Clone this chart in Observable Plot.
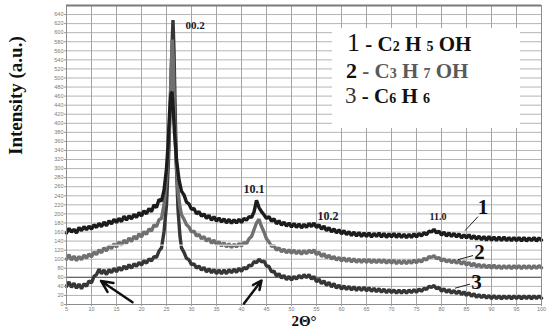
<!DOCTYPE html>
<html><head><meta charset="utf-8">
<script src="https://cdn.jsdelivr.net/npm/d3@7"></script>
<script src="https://cdn.jsdelivr.net/npm/@observablehq/plot@0.6"></script>
<style>
body{margin:0;background:#fff;}
#wrap{position:relative;width:550px;height:334px;overflow:hidden;}
#legend{position:absolute;left:332px;top:28px;overflow:visible;font-family:'Liberation Serif','Times New Roman','DejaVu Serif',serif;}
</style></head>
<body>
<div id="wrap"><div id="chart"></div>
<svg id="legend" width="188" height="100">
  <rect x="0" y="0" width="188" height="100" fill="#fff"/>
  <text x="15" y="23" fill="#111"><tspan font-size="26">1</tspan><tspan font-size="21" font-weight="bold"> - C</tspan><tspan font-size="14" font-weight="bold">2</tspan><tspan font-size="21" font-weight="bold"> H </tspan><tspan font-size="14" font-weight="bold">5</tspan><tspan font-size="21" font-weight="bold"> OH</tspan></text>
  <text x="14" y="50"><tspan font-size="22" font-weight="bold" fill="#111">2</tspan><tspan font-size="21" font-weight="bold" fill="#5a5a5a"> - C</tspan><tspan font-size="14" font-weight="bold" fill="#5a5a5a">3</tspan><tspan font-size="21" font-weight="bold" fill="#5a5a5a"> H </tspan><tspan font-size="14" font-weight="bold" fill="#5a5a5a">7</tspan><tspan font-size="21" font-weight="bold" fill="#5a5a5a"> OH</tspan></text>
  <text x="13" y="75"><tspan font-size="23" fill="#333">3</tspan><tspan font-size="21" font-weight="bold" fill="#111"> - C</tspan><tspan font-size="14" font-weight="bold" fill="#111">6</tspan><tspan font-size="21" font-weight="bold" fill="#111"> H </tspan><tspan font-size="14" font-weight="bold" fill="#111">6</tspan></text>
</svg>
</div>
<script>
const xTicks = [5,10,15,20,25,30,35,40,45,50,55,60,65,70,75,80,85,90,95,100];
const yTicks = [0,20,40,60,80,100,120,140,160,180,200,220,240,260,280,300,320,340,360,380,400,420,440,460,480,500,520,540,560,580,600,620,640];

// Curve 1 (C2H5OH): values every 0.5° from 5 to 24, peak region, values every 0.5° from 28.5 to 100
const s1Left = [158,168,160,166,158,170,163,172,165,173,166,176,170,179,172,182,174,185,178,188,181,190,183,195,186,196,189,199,192,203,195,207,200,212,205,220,214,232,228];
const s1PeakT = [24.5,25,25.3,25.6,25.9,26.1,26.3,26.6,27,27.5,28];
const s1PeakV = [252,300,350,420,465,470,440,380,320,275,250];
const s1Right = [242,226,222,210,212,200,205,195,200,190,
197,186,194,184,191,182,189,180,188,179,
187,180,188,181,190,186,194,192,204,230,
214,205,198,190,194,184,189,178,185,175,
182,173,180,171,179,170,178,169,177,170,
179,172,180,170,176,166,173,163,170,160,
167,158,165,156,163,154,161,152,160,151,
159,150,158,150,158,149,157,150,158,149,
157,148,156,149,157,148,156,148,155,147,
155,148,156,149,157,151,159,154,162,160,
166,158,162,153,160,151,158,150,157,149,
156,147,154,147,154,145,152,144,151,143,
150,142,150,142,149,141,149,141,149,141,
148,141,148,141,148,140,148,140,147,141,
148,140,147,142];

// Curve 2 (C3H7OH)
const s2Left = [100,110,98,107,97,106,99,109,102,112,105,116,110,121,114,125,118,130,123,134,127,138,131,142,135,147,139,151,144,156,149,161,155,167,162,176,172,187,190];
const s2PeakT = [24.5,25,25.4,25.7,25.95,26.15,26.35,26.6,26.9,27.3,27.7,28];
const s2PeakV = [220,275,340,430,520,585,540,420,320,250,215,198];
const s2Right = [188,176,171,160,162,151,155,145,150,140,
146,135,142,132,139,129,136,127,134,126,
133,127,135,129,137,134,145,150,165,180,
188,172,160,145,138,128,130,120,125,116,
122,114,121,113,120,112,119,111,119,112,
120,114,121,110,116,106,112,103,109,100,
106,98,104,96,103,95,102,94,101,93,
100,93,100,93,100,92,99,92,99,92,
99,91,98,91,98,90,97,90,97,90,
97,91,98,92,99,94,102,98,106,104,
108,101,104,96,101,94,99,92,98,91,
97,89,95,87,93,85,91,83,89,82,
88,81,87,80,87,80,86,79,86,80,
86,79,86,80,86,79,86,80,86,79,
86,80,86,81];

// Curve 3 (C6H6)
const s3Left = [40,50,38,47,36,45,35,46,40,52,48,62,66,78,68,76,66,77,70,80,72,82,75,85,78,88,80,90,84,93,87,97,91,101,96,106,104,118,125];
const s3PeakT = [24.5,25,25.4,25.8,26.1,26.3,26.5,26.75,27,27.3,27.7,28];
const s3PeakV = [160,220,320,460,570,628,560,420,300,210,150,125];
const s3Right = [115,102,99,88,90,80,85,76,82,72,
79,70,77,68,76,68,76,68,77,70,
78,71,80,73,82,78,87,85,95,92,
100,94,96,85,84,72,74,63,68,58,
64,55,62,54,62,56,64,58,66,59,
66,56,62,50,56,46,52,42,49,39,
46,36,43,34,41,33,40,32,39,31,
38,31,38,30,37,29,36,28,35,27,
34,26,33,26,32,25,32,25,32,25,
32,26,33,27,34,29,36,33,40,38,
42,35,38,29,35,27,33,25,31,24,
30,22,28,20,26,18,24,16,22,15,
21,14,20,13,20,13,19,12,19,13,
19,12,19,13,19,12,19,13,19,12,
19,13,19,14];

const peakLabels = ["00.2","10.1","10.2","11.0"];
const peakLabelT = [30.7,42.5,57.3,79.3];
const peakLabelV = [615,254,196,193];
const peakLabelSize = [11,12,12,10];

const curveNames = ["1","2","3"];
const curveLabelT = [88.3,87.6,87.0];
const curveLabelV = [214,115,48];
const leaderT1 = [87.3,86.3,85.7], leaderV1 = [194,108,45];
const leaderT2 = [84.7,83.3,82.7], leaderV2 = [163,99,36];

const arrowT1 = [18.2,40.5], arrowV1 = [5,2];
const arrowT2 = [11.9,44.0], arrowV2 = [52,53];

function build(left, pT, pV, right) {
  const out = [];
  left.forEach((v,i) => out.push({t: 5 + i*0.5, v}));
  pT.forEach((t,i) => out.push({t, v: pV[i]}));
  right.forEach((v,i) => out.push({t: 28.5 + i*0.5, v}));
  return out;
}
const c1 = build(s1Left, s1PeakT, s1PeakV, s1Right);
const c2 = build(s2Left, s2PeakT, s2PeakV, s2Right);
const c3 = build(s3Left, s3PeakT, s3PeakV, s3Right);

const pl = peakLabels.map((s,i)=>({s, t:peakLabelT[i], v:peakLabelV[i], f:peakLabelSize[i]}));
const cl = curveNames.map((s,i)=>({s, t:curveLabelT[i], v:curveLabelV[i]}));
const ld = curveNames.map((s,i)=>({x1:leaderT1[i], y1:leaderV1[i], x2:leaderT2[i], y2:leaderV2[i]}));
const ar = arrowT1.map((t,i)=>({x1:t, y1:arrowV1[i], x2:arrowT2[i], y2:arrowV2[i]}));

const serif = "'Liberation Serif','Times New Roman','DejaVu Serif',serif";

const chart = Plot.plot({
  width: 550, height: 334,
  marginLeft: 66, marginRight: 9, marginTop: 5, marginBottom: 30,
  x: {domain: [5, 100]},
  y: {domain: [0, 660]},
  style: {background: "transparent", fontFamily: "'Liberation Sans', Arial, sans-serif"},
  marks: [
    Plot.gridY(yTicks, {stroke: "#b4b4b4", strokeOpacity: 1}),
    Plot.gridX(xTicks, {stroke: "#a6a6a6", strokeOpacity: 1}),
    Plot.ruleY([60], {stroke: "#666", strokeWidth: 1.2}),
    Plot.line(c3, {x: "t", y: "v", stroke: "#363636", strokeWidth: 3.4, strokeLinejoin: "miter"}),
    Plot.line(c2, {x: "t", y: "v", stroke: "#707070", strokeWidth: 3.4, strokeLinejoin: "miter"}),
    Plot.line(c1, {x: "t", y: "v", stroke: "#1c1c1c", strokeWidth: 3.4, strokeLinejoin: "miter"}),
    Plot.ruleY([131], {stroke: "#fff", strokeWidth: 1}),
    Plot.frame({stroke: "#8c8c8c"}),
    Plot.ruleY([660], {stroke: "#7a7a7a", strokeWidth: 2}),
    Plot.axisY(yTicks, {tickSize: 2, fontSize: 5.5, fill: "#7a7a7a", stroke: "#999", tickPadding: 1, label: null}),
    Plot.axisX(xTicks, {tickSize: 2, fontSize: 5.5, fill: "#7a7a7a", stroke: "#999", tickPadding: 1, label: null}),
    Plot.text(pl, {x: "t", y: "v", text: "s", fontSize: d => d.f, fontWeight: "bold", fontFamily: serif, fill: "#1a1a2a"}),
    Plot.text(cl, {x: "t", y: "v", text: "s", fontSize: 21, fontWeight: "bold", fontFamily: serif, fill: "#111"}),
    Plot.link(ld, {x1: "x1", y1: "y1", x2: "x2", y2: "y2", stroke: "#222", strokeWidth: 1}),
    Plot.arrow(ar, {x1: "x1", y1: "y1", x2: "x2", y2: "y2", stroke: "#111", strokeWidth: 2.5, headLength: 10, headAngle: 50}),
    Plot.text(["2Θ°"], {frameAnchor: "bottom", dy: 21, fontSize: 15, fontWeight: "bold", fontFamily: serif, fill: "#111"}),
    Plot.text(["Intensity (a.u.)"], {frameAnchor: "left", dx: -51, rotate: -90, fontSize: 19, fontWeight: "bold", fontFamily: serif, fill: "#111"})
  ]
});
document.getElementById("chart").appendChild(chart);
</script>
</body></html>
